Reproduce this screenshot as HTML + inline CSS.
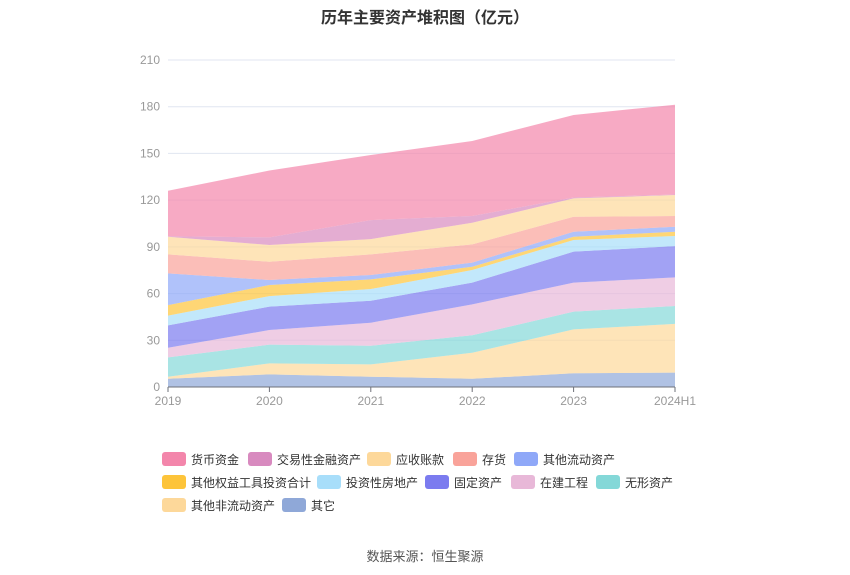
<!DOCTYPE html>
<html><head><meta charset="utf-8">
<style>
body{margin:0;width:850px;height:575px;background:#fff;font-family:"Liberation Sans","Noto Sans CJK SC",sans-serif;overflow:hidden;position:relative}
.title{position:absolute;top:4px;left:0;width:850px;text-align:center;font-size:16px;font-weight:bold;color:#333}
.src{position:absolute;top:546px;left:0;width:850px;text-align:center;font-size:13px;color:#555}
.lg{position:absolute;display:flex;align-items:center;font-size:12px;color:#333;height:16px}
.sw{width:24px;height:14px;border-radius:3px;margin-right:5px}
</style></head><body>
<div class="title">历年主要资产堆积图（亿元）</div>
<svg id="chart" width="850" height="440" style="position:absolute;top:0;left:0"></svg>
<div id="legend"></div>
<div class="src">数据来源：恒生聚源</div>
<script>
const categories=["2019","2020","2021","2022","2023","2024H1"];
const seriesNames=["其它","其他非流动资产","无形资产","在建工程","固定资产","投资性房地产","其他权益工具投资合计","其他流动资产","存货","应收账款","交易性金融资产","货币资金"];
const sOther=[5.3,8.1,6.6,5.3,8.8,9.2];
const sNonCur=[1.3,7.1,7.9,16.7,28.2,31.3];
const sIntang=[12.4,12.0,12.0,11.2,11.4,11.5];
const sCIP=[6.2,9.4,14.8,19.9,18.6,18.4];
const sFixed=[14.4,15.0,14.1,13.9,19.9,20.1];
const sInvProp=[6.2,6.8,7.5,8.1,7.5,6.5];
const sEquity=[6.8,7.1,6.2,2.1,2.1,2.7];
const sOtherCur=[20.4,3.2,2.8,2.7,3.2,3.2];
const sInvent=[12.2,11.7,13.3,11.7,9.6,6.9];
const sRecv=[11.3,10.8,9.8,13.9,11.8,13.5];
const sTrading=[0.3,4.9,12.2,4.3,0.6,0.3];
const sCash=[29.2,42.9,41.8,48.2,53.0,57.7];
const yTicks=[0,30,60,90,120,150,180,210];
const series=[sOther,sNonCur,sIntang,sCIP,sFixed,sInvProp,sEquity,sOtherCur,sInvent,sRecv,sTrading,sCash];
const colors=["#8fa8d8","#fdd89a","#84d8d8","#e8b8d8","#7b7bef","#a8defa","#fdc43a","#8fa8f8","#f9a39a","#fdd89a","#d88abf","#f386ab"];
const NS="http://www.w3.org/2000/svg";
const svg=document.getElementById('chart');
const x0=168,x1=675,yb=387,yt=60,ymax=210;
const xs=i=>x0+(x1-x0)*i/(categories.length-1);
const ys=v=>yb-(yb-yt)*v/ymax;
function mk(t,a){const e=document.createElementNS(NS,t);for(const k in a)e.setAttribute(k,a[k]);svg.appendChild(e);return e;}
yTicks.forEach(t=>{
 if(t>0){const g=mk('line',{x1:x0,x2:x1,y1:ys(t),y2:ys(t),stroke:'#e0e6f1'});
 
 }
 const l=mk('text',{x:x0-8,y:ys(t)+4,'text-anchor':'end','font-size':12,fill:'#999'});l.textContent=t;
 
 
});
let base=categories.map(()=>0);
series.forEach((s,k)=>{
 const top=base.map((b,i)=>b+s[i]);
 let d='M'+categories.map((c,i)=>xs(i)+','+ys(top[i])).join('L');
 for(let i=categories.length-1;i>=0;i--)d+='L'+xs(i)+','+ys(base[i]);
 const p=mk('path',{d:d+'Z',fill:colors[k],'fill-opacity':0.7});
 
 
 base=top;
});
const ax=mk('line',{x1:x0,x2:x1,y1:yb,y2:yb,stroke:'#6e7079'});


categories.forEach((c,i)=>{
 const tk=mk('line',{x1:xs(i),x2:xs(i),y1:yb,y2:yb+5,stroke:'#6e7079'});
 
 
 const l=mk('text',{x:xs(i),y:yb+18,'text-anchor':'middle','font-size':12,fill:'#999'});l.textContent=c;
 
 
});
const legendItems=[["货币资金","#f386ab",162,459],["交易性金融资产","#d88abf",248,459],["应收账款","#fdd89a",367,459],["存货","#f9a39a",453,459],["其他流动资产","#8fa8f8",514,459],
["其他权益工具投资合计","#fdc43a",162,482],["投资性房地产","#a8defa",317,482],["固定资产","#7b7bef",425,482],["在建工程","#e8b8d8",511,482],["无形资产","#84d8d8",596,482],
["其他非流动资产","#fdd89a",162,505],["其它","#8fa8d8",282,505]];
const lg=document.getElementById('legend');
legendItems.forEach(([n,c,x,y])=>{
 const d=document.createElement('div');d.className='lg';d.style.left=x+'px';d.style.top=(y-8)+'px';
 d.innerHTML='<div class="sw" style="background:'+c+'"></div>'+n;
 
 
 lg.appendChild(d);
});
</script>
</body></html>
